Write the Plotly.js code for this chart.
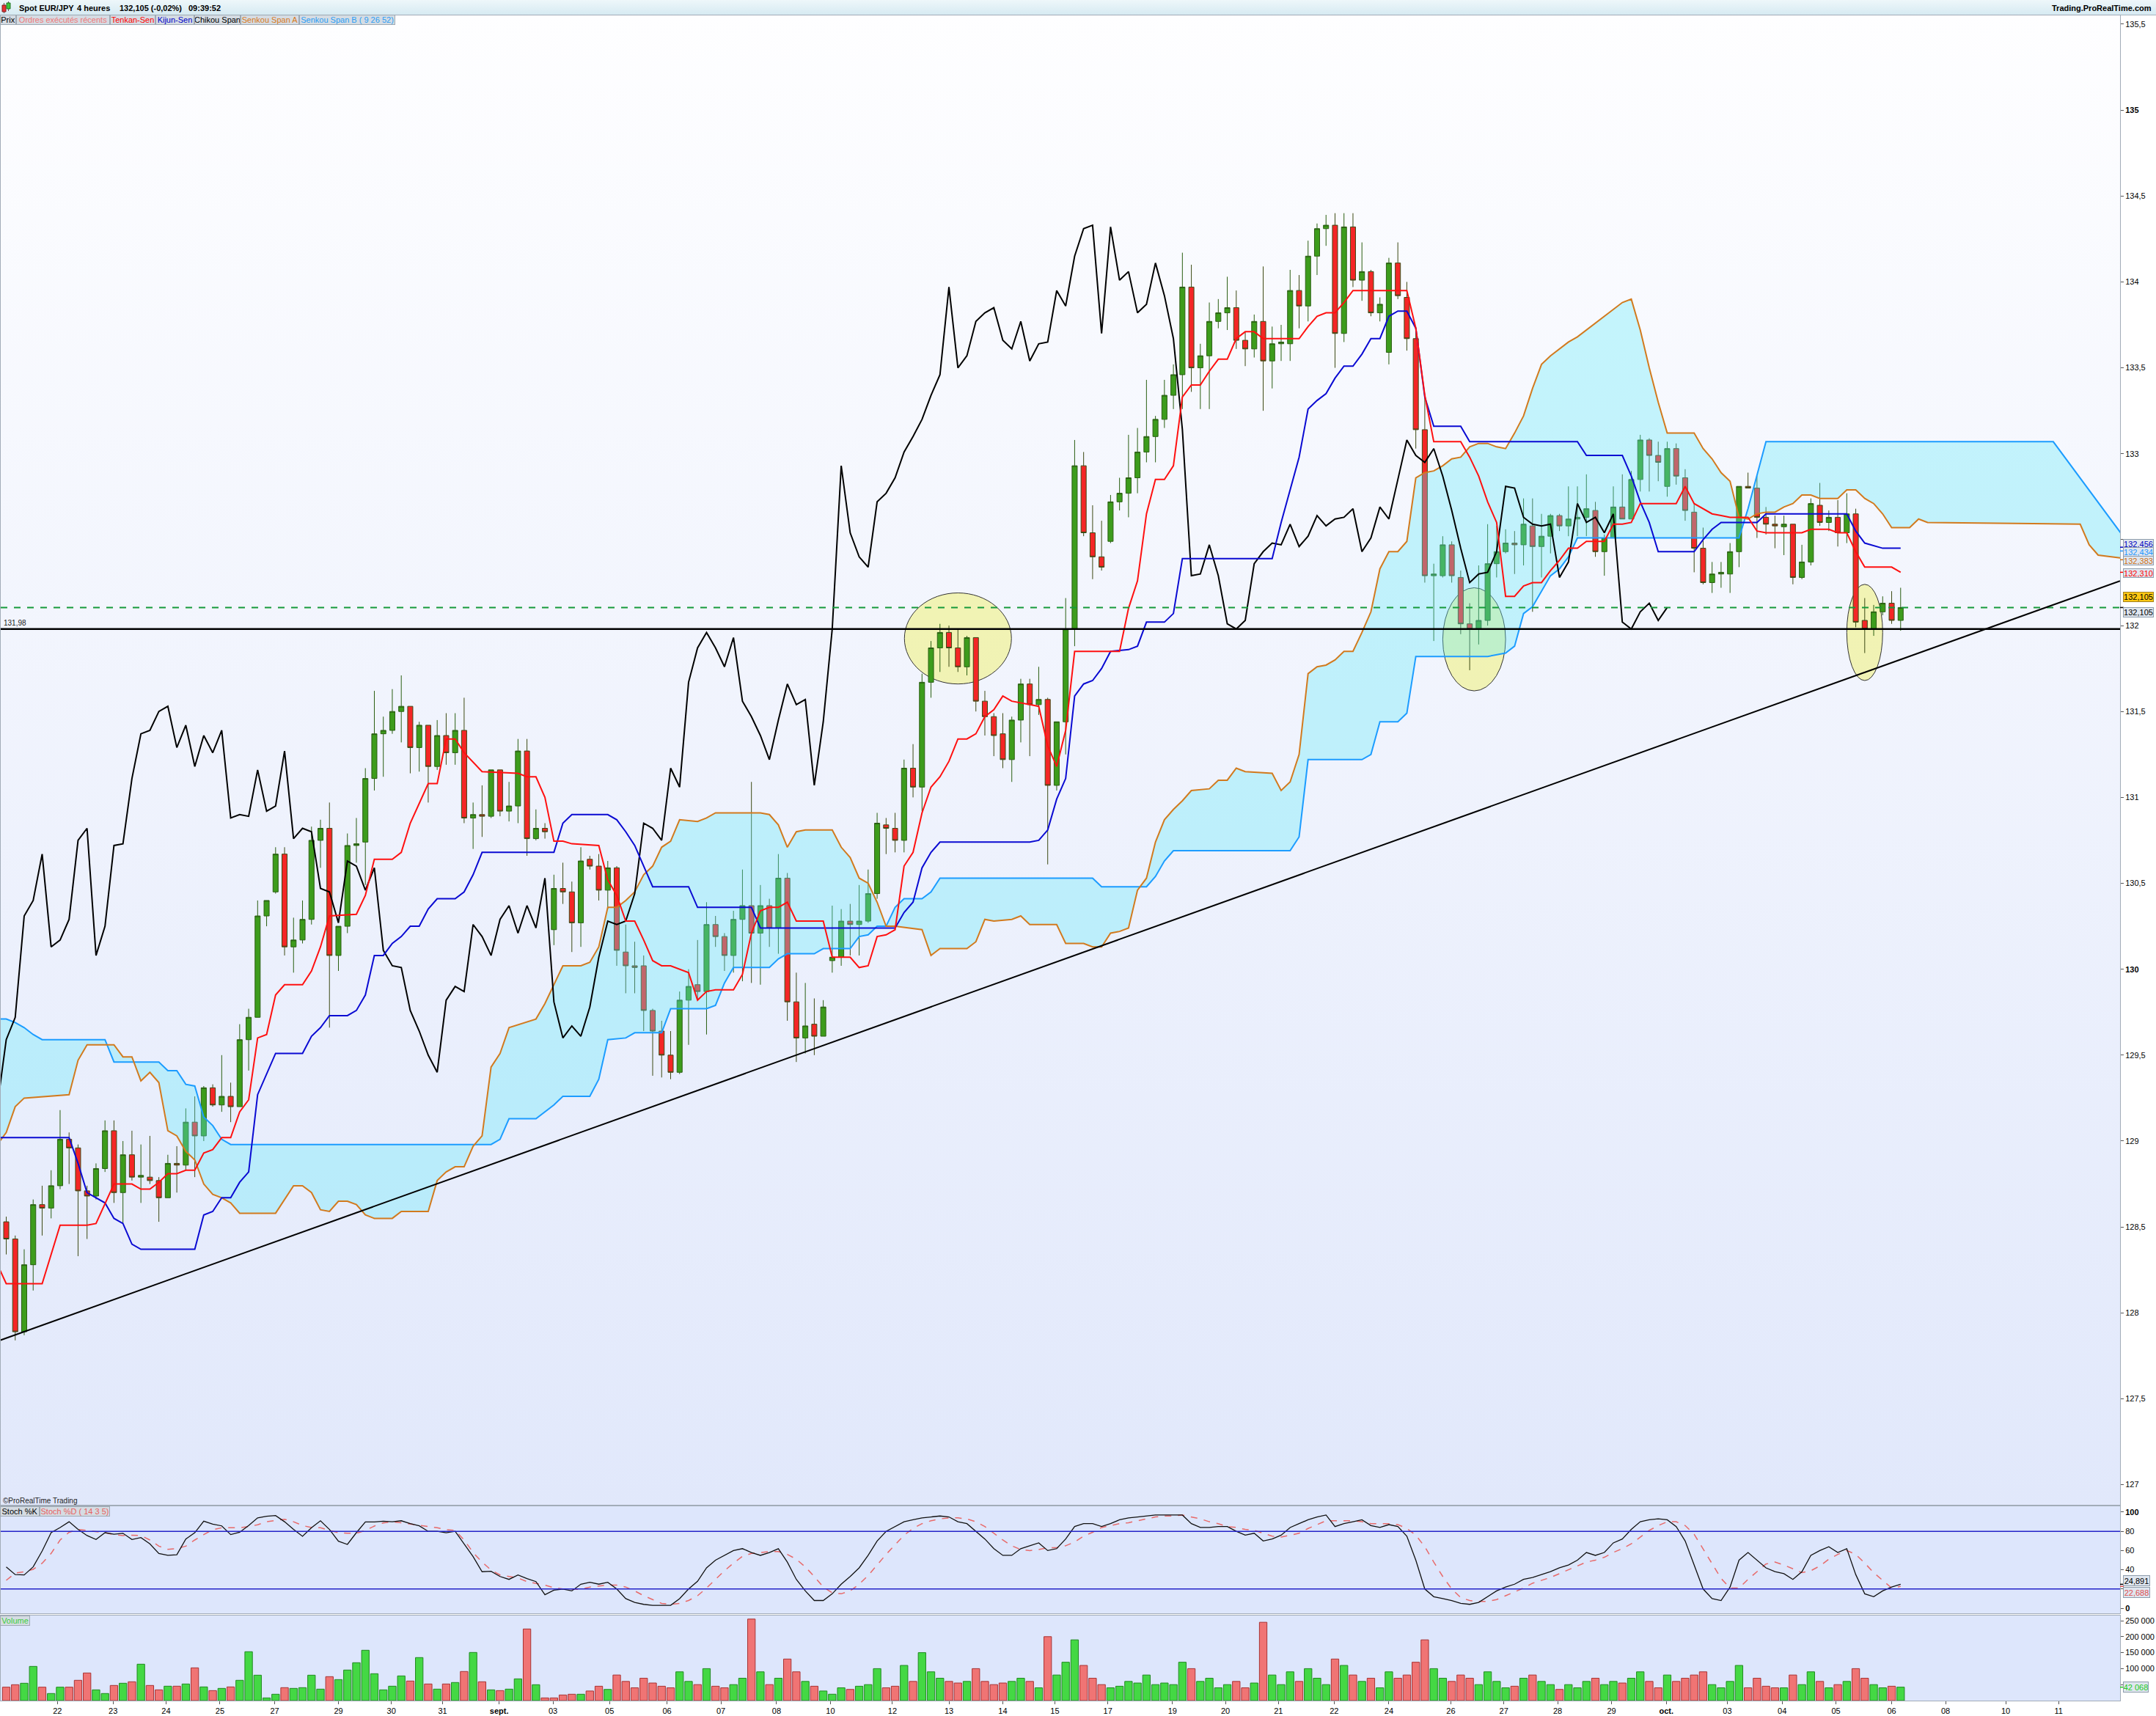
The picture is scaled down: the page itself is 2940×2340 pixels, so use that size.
<!DOCTYPE html>
<html><head><meta charset="utf-8">
<script src="https://cdn.plot.ly/plotly-3.0.1.min.js"></script>
<style>
html,body{margin:0;padding:0;width:2940px;height:2340px;overflow:hidden;background:#fff;}
#bgHead{position:absolute;left:0;top:0;width:2940px;height:20px;background:linear-gradient(#eef7fa,#d6eaf2);border-bottom:1px solid #a9b6c0;}
#bgPrice{position:absolute;left:1px;top:21px;width:2890px;height:2031px;background:linear-gradient(#fefeff,#e1e8fb);}
#bgStoch{position:absolute;left:1px;top:2054px;width:2890px;height:146px;background:#dde6fc;}
#bgVol{position:absolute;left:1px;top:2203px;width:2890px;height:116px;background:#dde6fc;}
#chart{position:absolute;left:0;top:0;width:2940px;height:2340px;}
</style></head>
<body>
<div id="bgHead"></div><div id="bgPrice"></div><div id="bgStoch"></div><div id="bgVol"></div>
<div id="chart"></div>
<script>
// ---------------- DATA ----------------
const open=[128.53,128.43,127.89,128.28,128.63,128.61,128.74,129.01,128.96,128.71,
128.68,128.84,129.06,128.70,128.92,128.79,128.79,128.77,128.67,128.87,
128.86,129.11,129.03,129.31,129.21,129.26,129.20,129.59,129.72,130.31,
130.45,130.67,130.13,130.17,130.29,130.75,130.82,130.08,130.25,130.72,
130.74,131.11,131.37,131.39,131.50,131.53,131.29,131.42,131.18,131.36,
131.26,131.39,130.88,130.90,130.89,131.16,130.92,130.95,131.27,130.76,
130.82,130.23,130.47,130.45,130.27,130.64,130.60,130.46,130.59,130.10,
130.02,130.02,129.76,129.64,129.50,129.40,129.82,129.91,129.87,130.26,
130.19,130.08,130.29,130.37,130.21,130.37,130.24,130.53,129.81,129.60,
129.68,129.61,130.05,130.07,130.28,130.26,130.28,130.44,130.84,130.82,
130.75,131.17,131.06,131.67,131.87,131.96,131.87,131.76,131.93,131.56,
131.47,131.37,131.22,131.45,131.66,131.54,131.57,131.07,131.44,131.98,
132.93,132.54,132.40,132.49,132.72,132.77,132.86,133.01,133.10,133.20,
133.34,133.46,133.97,133.50,133.57,133.77,133.82,133.85,133.66,133.61,
133.77,133.54,133.64,133.64,133.95,133.86,134.15,134.31,134.33,133.70,
134.32,134.01,134.06,133.82,133.59,134.11,133.91,133.67,133.14,132.29,
132.29,132.47,132.28,132.01,131.98,132.03,132.36,132.43,132.48,132.47,
132.58,132.46,132.52,132.64,132.58,132.62,132.63,132.67,132.43,132.51,
132.69,132.62,132.85,133.08,132.99,132.81,133.03,132.86,132.66,132.45,
132.25,132.30,132.30,132.43,132.81,132.80,132.63,132.59,132.575,132.59,
132.28,132.37,132.70,132.60,132.63,132.54,132.65,132.03,131.98,132.08,
132.13,132.03];
const high=[128.56,128.45,128.37,128.66,128.74,128.83,129.18,129.05,128.98,128.74,
128.87,129.12,129.12,129.00,129.06,128.98,129.03,128.79,128.92,128.97,
129.19,129.26,129.32,129.33,129.50,129.34,129.68,129.77,130.40,130.40,
130.71,130.71,130.30,130.40,130.83,130.87,130.97,130.25,130.79,130.88,
131.17,131.62,131.47,131.63,131.71,131.53,131.44,131.42,131.45,131.49,
131.49,131.58,130.97,131.07,131.16,131.16,131.09,131.34,131.34,130.93,
130.85,130.55,130.62,130.51,130.71,130.66,130.67,130.63,130.60,130.26,
130.16,130.08,129.77,129.70,129.64,129.87,130.00,130.17,130.39,130.31,
130.21,130.34,130.58,131.09,130.49,130.41,130.67,130.56,129.98,129.92,
129.83,129.82,130.37,130.35,130.38,130.49,130.58,130.91,130.88,130.91,
131.22,131.31,131.72,131.91,132.01,132.00,131.98,131.94,131.93,131.62,
131.49,131.49,131.47,131.69,131.69,131.76,131.58,131.44,132.16,133.08,
133.01,132.70,132.61,132.76,132.86,133.11,133.15,133.43,133.22,133.43,
133.52,134.17,134.10,133.64,133.88,133.90,134.03,133.95,133.71,133.81,
134.09,133.74,133.75,134.07,134.04,134.24,134.34,134.39,134.40,134.40,
134.40,134.23,134.07,133.91,134.14,134.23,134.00,133.74,133.34,132.36,
132.52,132.49,132.32,132.13,132.35,132.59,132.58,132.56,132.55,132.74,
132.74,132.65,132.65,132.65,132.81,132.81,132.88,132.72,132.53,132.81,
132.88,132.90,133.11,133.09,133.07,133.07,133.06,132.91,132.71,132.57,
132.37,132.37,132.48,132.81,132.89,132.87,132.69,132.64,132.64,132.59,
132.47,132.74,132.83,132.67,132.73,132.77,132.68,132.16,132.12,132.17,
132.20,132.22];
const low=[128.34,127.84,127.87,128.13,128.45,128.55,128.72,128.75,128.33,128.43,
128.66,128.82,128.64,128.52,128.77,128.64,128.75,128.53,128.67,128.70,
128.83,128.79,129.00,129.20,129.17,129.11,129.20,129.41,129.72,130.25,
130.44,130.08,129.98,130.15,130.26,130.59,129.66,129.99,130.21,130.62,
130.49,131.04,131.12,131.37,131.32,131.14,131.15,130.97,131.16,131.19,
131.19,130.85,130.70,130.77,130.88,130.89,130.86,130.85,130.66,130.75,
130.76,130.14,130.38,130.10,130.13,130.58,130.40,130.35,130.02,129.86,
129.86,129.64,129.38,129.37,129.36,129.39,129.56,129.82,129.62,130.13,
129.99,129.98,129.93,129.92,129.91,130.13,130.09,129.70,129.46,129.51,
129.50,129.61,129.98,130.02,130.08,130.08,130.27,130.41,130.67,130.68,
130.68,131.00,130.92,131.58,131.73,131.76,131.73,131.71,131.50,131.36,
131.24,131.17,131.09,131.32,131.24,131.48,130.61,131.04,131.25,131.88,
132.52,132.27,132.32,132.48,132.67,132.63,132.77,132.95,132.95,133.15,
133.26,133.26,133.36,133.26,133.26,133.73,133.72,133.61,133.51,133.56,
133.25,133.38,133.54,133.54,133.73,133.77,134.04,134.21,133.50,133.65,
133.97,133.89,133.80,133.77,133.52,133.90,133.60,133.03,132.25,131.91,
132.28,132.25,131.95,131.74,131.89,132.00,132.28,132.42,132.30,132.35,
132.08,132.28,132.42,132.55,132.52,132.52,132.52,132.40,132.29,132.51,
132.62,132.62,132.78,132.78,132.84,132.75,132.82,132.61,132.31,132.24,
132.19,132.22,132.19,132.34,132.80,132.51,132.53,132.45,132.41,132.24,
132.27,132.35,132.58,132.55,132.46,132.48,131.99,131.84,131.94,132.06,
132.01,131.97];
const close=[128.43,127.89,128.28,128.63,128.61,128.74,129.01,128.96,128.71,128.68,
128.84,129.06,128.70,128.92,128.79,128.80,128.77,128.67,128.87,128.86,
129.11,129.03,129.31,129.21,129.26,129.20,129.59,129.72,130.31,130.40,
130.67,130.13,130.17,130.29,130.75,130.82,130.08,130.25,130.72,130.73,
131.11,131.37,131.39,131.50,131.53,131.29,131.42,131.18,131.36,131.26,
131.39,130.88,130.90,130.89,131.16,130.92,130.95,131.27,130.76,130.82,
130.80,130.47,130.45,130.27,130.63,130.60,130.46,130.59,130.11,130.02,
130.01,129.76,129.64,129.50,129.40,129.82,129.90,129.87,130.26,130.19,
130.08,130.29,130.37,130.21,130.37,130.24,130.53,129.81,129.60,129.67,
129.61,129.78,130.07,130.28,130.26,130.28,130.44,130.85,130.82,130.75,
131.17,131.06,131.67,131.87,131.96,131.87,131.76,131.93,131.56,131.47,
131.36,131.22,131.45,131.66,131.54,131.57,131.07,131.44,131.98,132.93,
132.54,132.40,132.34,132.72,132.77,132.86,133.01,133.10,133.20,133.34,
133.46,133.97,133.50,133.57,133.77,133.82,133.85,133.66,133.61,133.77,
133.54,133.64,133.65,133.95,133.86,134.15,134.31,134.33,133.70,134.32,
134.01,134.06,133.82,133.87,134.11,133.92,133.67,133.14,132.29,132.30,
132.47,132.29,132.01,131.98,132.03,132.36,132.43,132.48,132.47,132.59,
132.46,132.52,132.64,132.58,132.62,132.63,132.68,132.43,132.51,132.69,
132.62,132.85,133.08,132.99,132.95,133.03,132.87,132.67,132.45,132.25,
132.30,132.31,132.43,132.81,132.80,132.63,132.59,132.58,132.59,132.28,
132.37,132.71,132.60,132.63,132.54,132.65,132.02,131.98,132.08,132.13,
132.03,132.105];

// Ichimoku lines as [candle index, price] vertices
const tenkan=[[-0.7,128.25],[0,128.17],[4,128.17],[6,128.51],[9,128.51],[10,128.52],[12,128.75],[14,128.75],[15,128.72],[16,128.72],[17,128.76],[18,128.81],[19,128.81],[20,128.83],[21,128.83],[22,128.93],[23,128.95],[24,129.02],[25,129.02],[26,129.17],[27,129.24],[28,129.60],[29,129.62],[30,129.85],[31,129.91],[33,129.91],[34,129.99],[35,130.13],[36,130.31],[39,130.32],[40,130.43],[41,130.64],[43,130.64],[44,130.68],[45,130.85],[47,131.08],[48,131.08],[49,131.34],[50,131.34],[51,131.26],[53,131.15],[57,131.14],[58,131.12],[59,131.12],[60,131.00],[61,130.745],[62,130.745],[63,130.73],[66,130.72],[67,130.52],[68,130.43],[69,130.28],[70,130.28],[71,130.17],[72,130.05],[73,130.02],[74,130.02],[75,130.00],[76,129.98],[77,129.82],[78,129.87],[79,129.88],[81,129.88],[82,129.97],[83,130.21],[84,130.34],[85,130.36],[86,130.36],[87,130.39],[88,130.28],[91,130.28],[92,130.07],[94,130.07],[95,130.01],[96,130.02],[97,130.19],[98,130.20],[99,130.23],[100,130.60],[101,130.68],[102,130.91],[103,131.06],[104,131.12],[105,131.21],[106,131.34],[107,131.34],[108,131.37],[109,131.47],[110,131.51],[111,131.59],[112,131.56],[114,131.54],[115,131.53],[116,131.30],[117,131.18],[118,131.39],[119,131.85],[124,131.85],[125,132.10],[126,132.26],[127,132.65],[128,132.85],[129,132.85],[130,132.93],[131,133.33],[132,133.40],[133,133.40],[134,133.48],[135,133.55],[136,133.55],[137,133.67],[138,133.71],[139,133.71],[140,133.67],[144,133.67],[145,133.74],[146,133.80],[147,133.82],[148,133.82],[149,133.88],[150,133.95],[156,133.95],[157,133.73],[158,133.34],[159,133.07],[162,133.07],[163,132.98],[164,132.87],[165,132.72],[166,132.60],[167,132.17],[168,132.17],[169,132.23],[170,132.25],[171,132.25],[172,132.32],[173,132.38],[174,132.45],[175,132.45],[176,132.49],[178,132.49],[179,132.59],[180,132.59],[181,132.60],[182,132.71],[186,132.71],[187,132.81],[188,132.71],[189,132.68],[190,132.65],[191,132.64],[192,132.63],[194,132.63],[195,132.55],[196,132.54],[200,132.54],[201,132.56],[203,132.56],[204,132.54],[205,132.54],[206,132.43],[207,132.34],[210,132.34],[211,132.31]];
const kijun=[[-0.7,129.02],[7,129.02],[8,128.87],[9,128.70],[11,128.64],[12,128.55],[13,128.52],[14,128.40],[15,128.37],[21,128.37],[22,128.57],[23,128.59],[24,128.67],[25,128.67],[26,128.76],[27,128.82],[28,129.27],[29,129.39],[30,129.51],[33,129.51],[34,129.61],[35,129.66],[36,129.73],[38,129.73],[39,129.76],[40,129.85],[41,130.08],[42,130.08],[43,130.15],[44,130.19],[45,130.25],[46,130.25],[47,130.35],[48,130.41],[50,130.41],[51,130.45],[52,130.55],[53,130.68],[61,130.68],[62,130.85],[63,130.90],[67,130.90],[68,130.87],[69,130.80],[70,130.72],[72,130.48],[76,130.48],[77,130.36],[83,130.36],[84,130.24],[99,130.24],[100,130.33],[101,130.39],[102,130.59],[103,130.68],[104,130.74],[114,130.74],[115,130.75],[116,130.81],[117,130.99],[118,131.11],[119,131.59],[120,131.66],[121,131.68],[122,131.75],[123,131.85],[125,131.86],[126,131.88],[127,132.02],[129,132.02],[130,132.07],[131,132.39],[141,132.39],[142,132.60],[143,132.79],[144,132.98],[145,133.26],[146,133.31],[147,133.35],[148,133.44],[149,133.51],[150,133.51],[151,133.58],[152,133.67],[153,133.67],[154,133.80],[155,133.83],[156,133.83],[157,133.73],[158,133.33],[159,133.16],[162,133.16],[163,133.07],[175,133.07],[176,132.99],[180,132.99],[181,132.87],[182,132.72],[183,132.60],[184,132.43],[188,132.43],[189,132.50],[190,132.56],[191,132.60],[195,132.60],[196,132.65],[205,132.65],[206,132.55],[207,132.48],[208,132.465],[209,132.45],[211,132.45]];
const senkouA=[[-0.7,129.00],[0,129.05],[1,129.20],[2,129.25],[7,129.27],[8,129.47],[9,129.56],[12,129.56],[13,129.49],[14,129.49],[15,129.35],[16,129.40],[17,129.34],[18,129.06],[19,129.03],[20,128.94],[21,128.89],[22,128.75],[23,128.69],[24,128.67],[25,128.64],[26,128.58],[30,128.58],[31,128.66],[32,128.74],[33,128.74],[34,128.70],[35,128.60],[36,128.59],[37,128.65],[38,128.65],[39,128.63],[40,128.57],[41,128.55],[43,128.55],[44,128.59],[47,128.59],[48,128.77],[49,128.82],[50,128.85],[51,128.85],[52,128.97],[53,129.03],[54,129.43],[55,129.51],[56,129.66],[59,129.71],[60,129.80],[61,129.91],[62,130.02],[64,130.02],[65,130.04],[66,130.13],[67,130.36],[68,130.36],[69,130.40],[70,130.45],[71,130.55],[72,130.60],[73,130.71],[74,130.745],[75,130.87],[77,130.86],[78,130.88],[79,130.91],[84,130.91],[85,130.90],[86,130.84],[87,130.71],[88,130.80],[89,130.81],[92,130.81],[93,130.71],[94,130.65],[95,130.53],[96,130.50],[97,130.39],[98,130.25],[99,130.25],[102,130.23],[103,130.08],[104,130.12],[107,130.12],[108,130.16],[109,130.29],[110,130.28],[112,130.29],[113,130.31],[114,130.26],[117,130.26],[118,130.15],[120,130.15],[121,130.13],[122,130.13],[123,130.21],[124,130.22],[125,130.24],[126,130.46],[127,130.53],[128,130.74],[129,130.87],[130,130.93],[131,130.98],[132,131.04],[134,131.05],[135,131.10],[136,131.10],[137,131.17],[138,131.15],[141,131.14],[142,131.04],[143,131.09],[144,131.25],[145,131.72],[146,131.76],[147,131.77],[148,131.80],[149,131.85],[150,131.85],[151,131.96],[152,132.08],[153,132.33],[154,132.43],[155,132.43],[156,132.49],[157,132.86],[158,132.89],[159,132.90],[160,132.93],[161,132.97],[162,132.98],[163,133.04],[164,133.06],[165,133.06],[166,133.04],[167,133.03],[168,133.12],[169,133.22],[170,133.38],[171,133.52],[172,133.57],[173,133.61],[174,133.65],[175,133.68],[176,133.72],[177,133.76],[178,133.80],[179,133.84],[180,133.88],[181,133.90],[182,133.72],[183,133.50],[184,133.30],[185,133.12],[188,133.12],[189,133.03],[190,132.97],[191,132.89],[192,132.84],[193,132.63],[194,132.62],[195,132.65],[196,132.66],[197,132.66],[198,132.69],[199,132.71],[200,132.76],[201,132.76],[202,132.74],[204,132.74],[205,132.79],[206,132.79],[207,132.74],[208,132.71],[209,132.65],[210,132.57],[212,132.57],[213,132.62],[214,132.60],[231,132.59],[232,132.47],[233,132.41],[237,132.383]];
const senkouB=[[-0.7,129.71],[0,129.71],[1,129.69],[2,129.66],[3,129.62],[4,129.59],[11,129.59],[12,129.46],[17,129.46],[18,129.41],[19,129.41],[20,129.33],[21,129.32],[22,129.14],[23,129.09],[24,129.01],[25,128.98],[54,128.98],[55,129.01],[56,129.13],[59,129.13],[60,129.17],[61,129.21],[62,129.26],[65,129.26],[66,129.36],[67,129.59],[69,129.60],[70,129.63],[73,129.63],[74,129.77],[78,129.77],[79,129.79],[80,129.92],[81,130.01],[85,130.01],[86,130.06],[87,130.09],[90,130.09],[91,130.12],[94,130.12],[95,130.19],[96,130.20],[97,130.25],[98,130.25],[99,130.36],[100,130.41],[102,130.41],[103,130.45],[104,130.53],[121,130.53],[122,130.48],[127,130.48],[128,130.54],[129,130.63],[130,130.69],[143,130.69],[144,130.77],[145,131.22],[151,131.22],[152,131.25],[153,131.44],[155,131.44],[156,131.49],[157,131.82],[165,131.82],[166,131.83],[167,131.84],[168,131.88],[169,132.07],[170,132.11],[171,132.20],[172,132.29],[173,132.33],[174,132.40],[175,132.51],[193,132.51],[194,132.68],[195,132.88],[196,133.07],[228,133.07],[237,132.434]];

// Stochastic (14,3,5) %K and %D, and volume, one value per candle
const stochK=[43,35,34.6,43,59.5,78.6,84,90,82,75.6,71.5,78.6,77,78,71.5,73.5,67,57,55,55.7,72,78.6,90.6,87.5,85.7,76.6,79,86,94,95.7,96.4,90,82,74.8,83.7,91,82,69.7,66.4,78.6,89.8,89.8,90.6,90,91,88,85.7,80,80,78.6,80,67,53.7,38,38.4,33,30,34.6,30.8,27.7,14,18.8,20,18,25,
27,25,27,20,10,6,4,3,3,3,10,20,28,42,50,55,60,62,58,55,58,62,48,30,18,8,8,15,25,33,42,55,70,80,85,90,92,94,95,96,95,90,88,80,72,62,55,55,62,65,68,60,62,72,85,88,88,85,88,92,94,95,96,97,97,97,97,88,84,84,85,85,80,76,78,70,72,76,84,88,92,95,97,85,88,90,92,86,84,87,85,75,50,20,12,10,8,5,4,6,12,18,22,25,30,32,35,38,42,45,50,58,55,58,68,72,82,90,92,93,92,85,70,45,20,10,8,22,50,58,50,42,38,36,30,38,55,60,64,58,62,35,15,12,18,22,24.891];
const stochD=[29,36.6,38,40.5,46.8,57,71,79,82,81,80,78.6,76.6,75.6,76,75.6,71,64.6,61.3,62,64.6,71,76.6,81.7,83.7,83.7,83.7,85,86.8,90,91.3,92.6,90,86,84,83.7,81,78.6,78,78,81,85.5,88.8,90,89,87.5,86,85,83.7,81.7,81,71,58,48,39.7,34.6,33,31.5,27.7,25.7,24,21.4,20,19.6,19.6,
22,23,24,24,22,18,13,9,5,4,5,8,13,21,30,39,47,54,57,58,59,59,56,51,43,33,22,16,15,18,25,34,45,56,66,76,83,88,91,93,94,94,93,90,85,78,71,65,61,60,61,63,63,65,69,75,79,84,86,88,89,91,93,95,96,96,97,95,93,90,88,85,84,82,81,78,75,74,76,78,83,87,91,91,91,91,90,88,88,88,87,83,76,64,48,33,20,11,8,7,7,9,13,17,21,26,29,32,36,40,44,48,50,53,58,62,67,74,81,86,90,90,86,77,62,46,31,21,21,30,38,46,48,45,41,37,39,44,51,56,60,56,47,37,29,21,22.688];
const volume=[42000,49700,54300,107000,42000,22200,42000,42000,63500,86400,33600,22200,47400,54300,58900,113900,47400,33600,45100,45100,52000,102400,42800,31300,38200,42800,63500,152900,79500,8400,19900,40500,38200,40500,79500,35900,74900,65700,95600,118500,157500,84100,33600,45100,77200,61200,134600,52000,35900,52000,56600,91000,150600,58900,33600,31300,35900,68000,224000,49700,8400,8400,17600,19900,19900,
30000,45000,35000,80000,60000,40000,70000,55000,45000,40000,90000,60000,50000,100000,45000,40000,50000,70000,255000,90000,50000,70000,130000,90000,60000,45000,30000,20000,40000,35000,45000,50000,100000,40000,45000,110000,60000,150000,90000,70000,60000,55000,60000,100000,60000,50000,55000,60000,70000,60000,40000,200000,80000,120000,190000,110000,70000,50000,40000,45000,60000,55000,80000,50000,55000,50000,120000,100000,60000,70000,40000,50000,60000,40000,55000,245000,80000,50000,90000,60000,100000,70000,50000,130000,110000,80000,60000,70000,40000,90000,70000,80000,120000,190000,100000,70000,60000,80000,70000,50000,90000,60000,40000,45000,70000,80000,60000,50000,35000,50000,40000,60000,70000,50000,60000,55000,70000,90000,60000,40000,80000,60000,70000,80000,90000,50000,40000,60000,110000,40000,70000,45000,40000,40000,80000,50000,90000,60000,40000,50000,60000,100000,70000,50000,40000,45000,42068];

const dayPos=[5.7,11.9,17.8,23.8,29.9,37.0,42.9,48.6,54.9,60.9,67.2,73.6,79.6,85.8,91.8,98.7,105.0,111.0,116.8,122.7,129.9,135.8,141.7,147.9,154.0,160.9,166.8,172.8,178.8,184.9,191.7,197.8,203.8,210.0,216.0,222.7,228.6];
const dayLabels=['22','23','24','25','27','29','30','31','<b>sept.</b>','03','05','06','07','08','10','12','13','14','15','17','19','20','21','22','24','26','27','28','29','<b>oct.</b>','03','04','05','06','08','10','11'];
const priceTicks=[127,127.5,128,128.5,129,129.5,130,130.5,131,131.5,132,132.5,133,133.5,134,134.5,135,135.5];
const priceTickText=['127','127,5','128','128,5','129','129,5','<b>130</b>','130,5','131','131,5','132','','133','133,5','134','134,5','<b>135</b>','135,5'];
const resistance=131.98, lastPrice=132.105;
const trendline=[[-0.694,127.84],[235.43,132.26]];
const ellipses=[[106.0,131.925,5.96,0.265],[163.5,131.92,3.5,0.30],[207.0,131.96,2.0,0.28]];
// last values shown in the right-hand boxes: [text, colour, value]
const priceMarks=[['132,456','#0000c0',132.456],['132,434','#1e96ff',132.434],['132,383','#d07010',132.383],['132,310','#ff0000',132.310]];

// ---------------- FIGURE ----------------
const FONT='"Liberation Sans", Arial, sans-serif';
const W=2940,H=2340,ML=1,MR=49,MT=21,MB=21,PW=W-ML-MR,PH=H-MT-MB;
const px=x=>(x-ML)/PW, py=y=>(H-MB-y)/PH;
const XR=[-0.613,235.44];
const idx=close.map((_,i)=>i);
const col=p=>p.map(v=>v[0]), val=p=>p.map(v=>v[1]);

const traces=[];
traces.push({type:'scatter',mode:'lines',x:col(senkouB),y:val(senkouB),line:{color:'#1c9cff',width:2},hoverinfo:'skip'});
traces.push({type:'scatter',mode:'lines',x:col(senkouA),y:val(senkouA),line:{color:'#d27a1e',width:2},fill:'tonexty',fillcolor:'rgba(90,235,250,0.33)',hoverinfo:'skip'});
traces.push({type:'candlestick',x:idx,open:open,high:high,low:low,close:close,
  increasing:{fillcolor:'#3d9c1c',line:{color:'#2a5f12',width:1}},
  decreasing:{fillcolor:'#f42626',line:{color:'#3d4a14',width:1}},whiskerwidth:0,hoverinfo:'skip'});
traces.push({type:'scatter',mode:'lines',x:idx.slice(25).map(i=>i-26),y:close.slice(25),line:{color:'#000',width:2},hoverinfo:'skip'});
traces.push({type:'scatter',mode:'lines',x:col(kijun),y:val(kijun),line:{color:'#0a0ad2',width:2},hoverinfo:'skip'});
traces.push({type:'scatter',mode:'lines',x:col(tenkan),y:val(tenkan),line:{color:'#ff1010',width:2},hoverinfo:'skip'});
traces.push({type:'scatter',mode:'lines',x:idx.slice(0,stochD.length),y:stochD,xaxis:'x2',yaxis:'y2',line:{color:'#e86a6a',width:1.5,dash:'dash'},hoverinfo:'skip'});
traces.push({type:'scatter',mode:'lines',x:idx.slice(0,stochK.length),y:stochK,xaxis:'x2',yaxis:'y2',line:{color:'#111',width:1.3},hoverinfo:'skip'});
const vUp=volume.map((v,i)=> i===0 ? false : close[i]>=close[i-1]);
traces.push({type:'bar',x:idx.slice(0,volume.length),y:volume,xaxis:'x3',yaxis:'y3',width:0.84,
  marker:{color:vUp.map(u=>u?'#44d844':'#f07474'),line:{color:vUp.map(u=>u?'#1f8a1f':'#a83232'),width:1}},hoverinfo:'skip'});

const shapes=[];
shapes.push({type:'line',xref:'x',yref:'y',x0:XR[0],x1:XR[1],y0:lastPrice,y1:lastPrice,line:{color:'#169a3a',width:2,dash:'dash'}});
shapes.push({type:'line',xref:'x',yref:'y',x0:XR[0],x1:XR[1],y0:resistance,y1:resistance,line:{color:'#000',width:2.5}});
shapes.push({type:'line',xref:'x',yref:'y',x0:trendline[0][0],y0:trendline[0][1],x1:trendline[1][0],y1:trendline[1][1],line:{color:'#000',width:2}});
ellipses.forEach(e=>shapes.push({type:'circle',layer:'below',xref:'x',yref:'y',x0:e[0]-e[2],x1:e[0]+e[2],y0:e[1]-e[3],y1:e[1]+e[3],fillcolor:'rgba(240,240,60,0.38)',line:{color:'#333',width:1}}));
[80,20].forEach(v=>shapes.push({type:'line',xref:'x2',yref:'y2',x0:XR[0],x1:XR[1],y0:v,y1:v,line:{color:'#2424c8',width:1.5}}));
// small coloured marks on the price axis at the last indicator values
priceMarks.forEach(m=>shapes.push({type:'line',xref:'paper',yref:'y',x0:1,x1:px(2896),y0:m[2],y1:m[2],line:{color:m[1],width:1.5}}));
shapes.push({type:'line',xref:'paper',yref:'y',x0:1,x1:px(2896),y0:lastPrice,y1:lastPrice,line:{color:'#000',width:1.5}});
shapes.push({type:'line',xref:'paper',yref:'y2',x0:1,x1:px(2896),y0:24.891,y1:24.891,line:{color:'#000',width:1.5}});
shapes.push({type:'line',xref:'paper',yref:'y2',x0:1,x1:px(2896),y0:22.688,y1:22.688,line:{color:'#e05050',width:1.5}});
shapes.push({type:'line',xref:'paper',yref:'y3',x0:1,x1:px(2896),y0:42068,y1:42068,line:{color:'#22cc22',width:1.5}});
// header icon
shapes.push({type:'line',xref:'paper',yref:'paper',x0:px(5.5),x1:px(5.5),y0:py(4),y1:py(18),line:{color:'#555',width:1}});
shapes.push({type:'rect',xref:'paper',yref:'paper',x0:px(3),x1:px(8),y0:py(7),y1:py(16),fillcolor:'#e83030',line:{color:'#802020',width:1}});
shapes.push({type:'line',xref:'paper',yref:'paper',x0:px(11.5),x1:px(11.5),y0:py(2),y1:py(15),line:{color:'#555',width:1}});
shapes.push({type:'rect',xref:'paper',yref:'paper',x0:px(9),x1:px(14),y0:py(4),y1:py(12),fillcolor:'#3cc83c',line:{color:'#207020',width:1}});

const ann=[];
function txt(t,x,y,anchor,size,color,bold){ann.push({xref:'paper',yref:'paper',x:px(x),y:py(y),xanchor:anchor,yanchor:'middle',showarrow:false,text:bold?'<b>'+t+'</b>':t,font:{family:FONT,size:size,color:color}});}
function box(t,x0,x1,yc,h,color,bg,bc){ann.push({xref:'paper',yref:'paper',x:px((x0+x1)/2),y:py(yc),xanchor:'center',yanchor:'middle',showarrow:false,text:t,width:x1-x0-2,height:h-2,borderpad:0,bgcolor:bg,bordercolor:bc,borderwidth:1,font:{family:FONT,size:11,color:color}});}
txt('Spot EUR/JPY',24,11,'left',11,'#000',true);
txt('4 heures',103,11,'left',11,'#000',true);
txt('132,105 (-0,02%)',161,11,'left',11,'#000',true);
txt('09:39:52',255,11,'left',11,'#000',true);
txt('Trading.ProRealTime.com',2936,11,'right',11,'#000',true);
const LB='#d5dce3', LBC='#9ea9b4';
box('Prix',0,22,27.5,14,'#000',LB,LBC);
box('Ordres exécutés récents',22,150,27.5,14,'#f07878',LB,LBC);
box('Tenkan-Sen',150,212,27.5,14,'#ff0000',LB,LBC);
box('Kijun-Sen',212,265,27.5,14,'#0000c8',LB,LBC);
box('Chikou Span',265,328,27.5,14,'#000',LB,LBC);
box('Senkou Span A',328,408,27.5,14,'#d87a1c',LB,LBC);
box('Senkou Span B ( 9 26 52)',408,539,27.5,14,'#2a9cf5',LB,LBC);
box('Stoch %K',0,54,2061,14,'#000',LB,LBC);
box('Stoch %D ( 14 3 5)',54,150,2061,14,'#e86060',LB,LBC);
box('Volume',0,41,2210,14,'#3ccc3c',LB,LBC);
txt('©ProRealTime Trading',2,2046,'left',10,'#222',false);
txt('131,98',3,849,'left',10,'#222',false);
const VB='#dfe6ef', VBC='#8e9cab';
box(priceMarks[0][0],2895,2937,741,13,priceMarks[0][1],VB,VBC);
box(priceMarks[1][0],2895,2937,752,13,priceMarks[1][1],VB,VBC);
box(priceMarks[2][0],2895,2937,765,13,priceMarks[2][1],VB,VBC);
box(priceMarks[3][0],2895,2937,781,13,priceMarks[3][1],VB,VBC);
box('132,105',2895,2937,814,14,'#000','#ffc814','#a08020');
box('132,105',2895,2937,835,14,'#000',VB,VBC);
box('24,891',2895,2932,2155,15,'#000',VB,VBC);
box('22,688',2895,2932,2171,15,'#e05050',VB,VBC);
box('42 068',2895,2930,2300,15,'#22cc22',VB,VBC);

const axBase={showgrid:false,zeroline:false,showline:true,mirror:true,linecolor:'#a2acb8',linewidth:1,fixedrange:true};
const xBase=Object.assign({},axBase,{range:XR,showticklabels:false,ticks:''});
const yBase=Object.assign({},axBase,{side:'right',ticks:'outside',ticklen:4,tickcolor:'#555',tickfont:{family:FONT,size:11,color:'#000'}});
const layout={
  width:W,height:H,margin:{l:ML,r:MR,t:MT,b:MB,pad:0},
  paper_bgcolor:'rgba(0,0,0,0)',plot_bgcolor:'rgba(0,0,0,0)',
  showlegend:false,boxgap:0.18,bargap:0.16,
  font:{family:FONT,size:11,color:'#000'},
  xaxis:Object.assign({},xBase,{anchor:'y',rangeslider:{visible:false}}),
  xaxis2:Object.assign({},xBase,{anchor:'y2',matches:'x'}),
  xaxis3:Object.assign({},xBase,{anchor:'y3',matches:'x',showticklabels:true,tickmode:'array',tickvals:dayPos,ticktext:dayLabels,ticks:'outside',ticklen:4,tickcolor:'#555',tickfont:{family:FONT,size:11,color:'#000'}}),
  yaxis:Object.assign({},yBase,{domain:[py(2052),1],range:[126.883,135.551],tickmode:'array',tickvals:priceTicks,ticktext:priceTickText}),
  yaxis2:Object.assign({},yBase,{domain:[py(2200),py(2054)],range:[-5.34,106.1],tickmode:'array',tickvals:[0,20,40,60,80,100],ticktext:['<b>0</b>','','40','60','80','<b>100</b>']}),
  yaxis3:Object.assign({},yBase,{domain:[0,py(2203)],range:[0,266055],tickmode:'array',tickvals:[50000,100000,150000,200000,250000],ticktext:['','100 000','150 000','200 000','250 000']}),
  shapes:shapes,annotations:ann
};
Plotly.newPlot('chart',traces,layout,{staticPlot:true,displayModeBar:false});
</script>
</body></html>
